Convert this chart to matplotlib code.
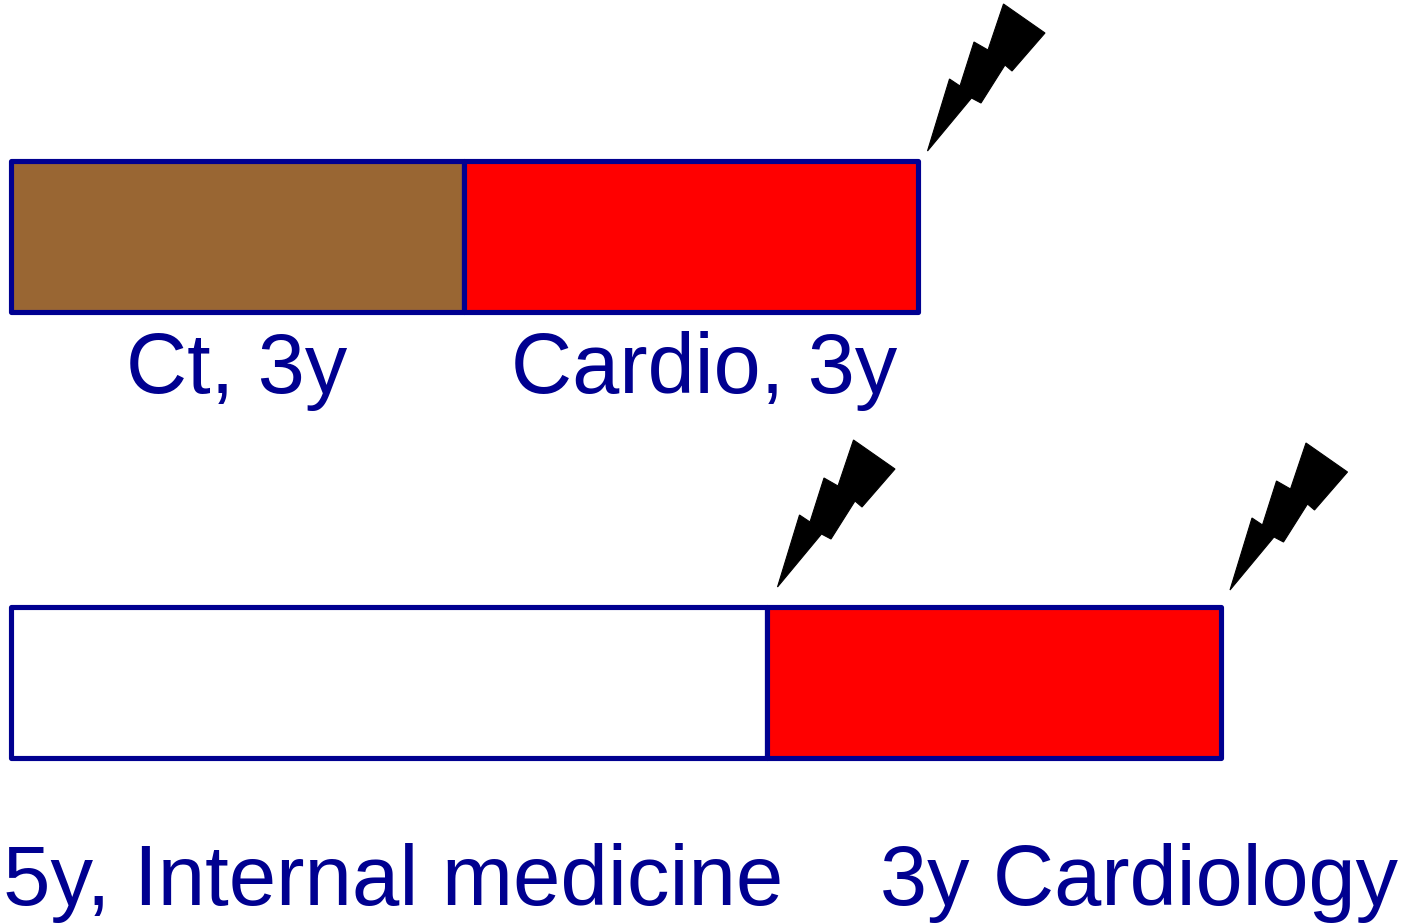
import matplotlib
matplotlib.use('Agg')
import matplotlib.pyplot as plt
from matplotlib.patches import Polygon

# years per training block, one bar per row
top_years = [3, 3]
top_colors = ['#996633', '#ff0000']
top_labels = ['Ct, 3y', 'Cardio, 3y']
bottom_years = [5, 3]
bottom_colors = ['#ffffff', '#ff0000']
bottom_labels = ['5y, Internal medicine', '3y Cardiology']

NAVY = '#000090'
px_per_year = 151.25
x0 = 10.5

plt.rcParams['font.family'] = ['Liberation Sans', 'DejaVu Sans']

fig = plt.figure(figsize=(14.06, 9.24), dpi=100)
ax = fig.add_axes([0, 0, 1, 1])
ax.set_xlim(0, 1406)
ax.set_ylim(924, 0)
ax.axis('off')


def draw_row(years, colors, y, h):
    left = x0
    for yr, c in zip(years, colors):
        w = yr * px_per_year
        ax.barh(y + h / 2, w, height=h, left=left, color=c, edgecolor=NAVY, linewidth=3.7, joinstyle='round')
        left += w


def bolt(tx, ty):
    # lightning outline relative to its lower tip
    shape = [(0, 0), (22, -72), (32.5, -65), (46.5, -109), (60.5, -101), (76, -147),
             (117.5, -118), (84.5, -80), (77.5, -86), (53.5, -48), (44, -53)]
    ax.add_patch(Polygon([(tx + a, ty + b) for a, b in shape], closed=True, fc='black', ec='black', lw=0.8))


draw_row(top_years, top_colors, 160.8, 151.4)
draw_row(bottom_years, bottom_colors, 607, 151)

bolt(927.5, 151)
bolt(777.5, 587)
bolt(1230, 590)

ax.text(237, 371, top_labels[0], color=NAVY, fontsize=61, ha='center', va='center')
ax.text(704, 371, top_labels[1], color=NAVY, fontsize=61, ha='center', va='center')
ax.text(393.5, 883, bottom_labels[0], color=NAVY, fontsize=61.4, ha='center', va='center')
ax.text(1139.5, 883, bottom_labels[1], color=NAVY, fontsize=61, ha='center', va='center')

fig.savefig('out.png', dpi=100)
